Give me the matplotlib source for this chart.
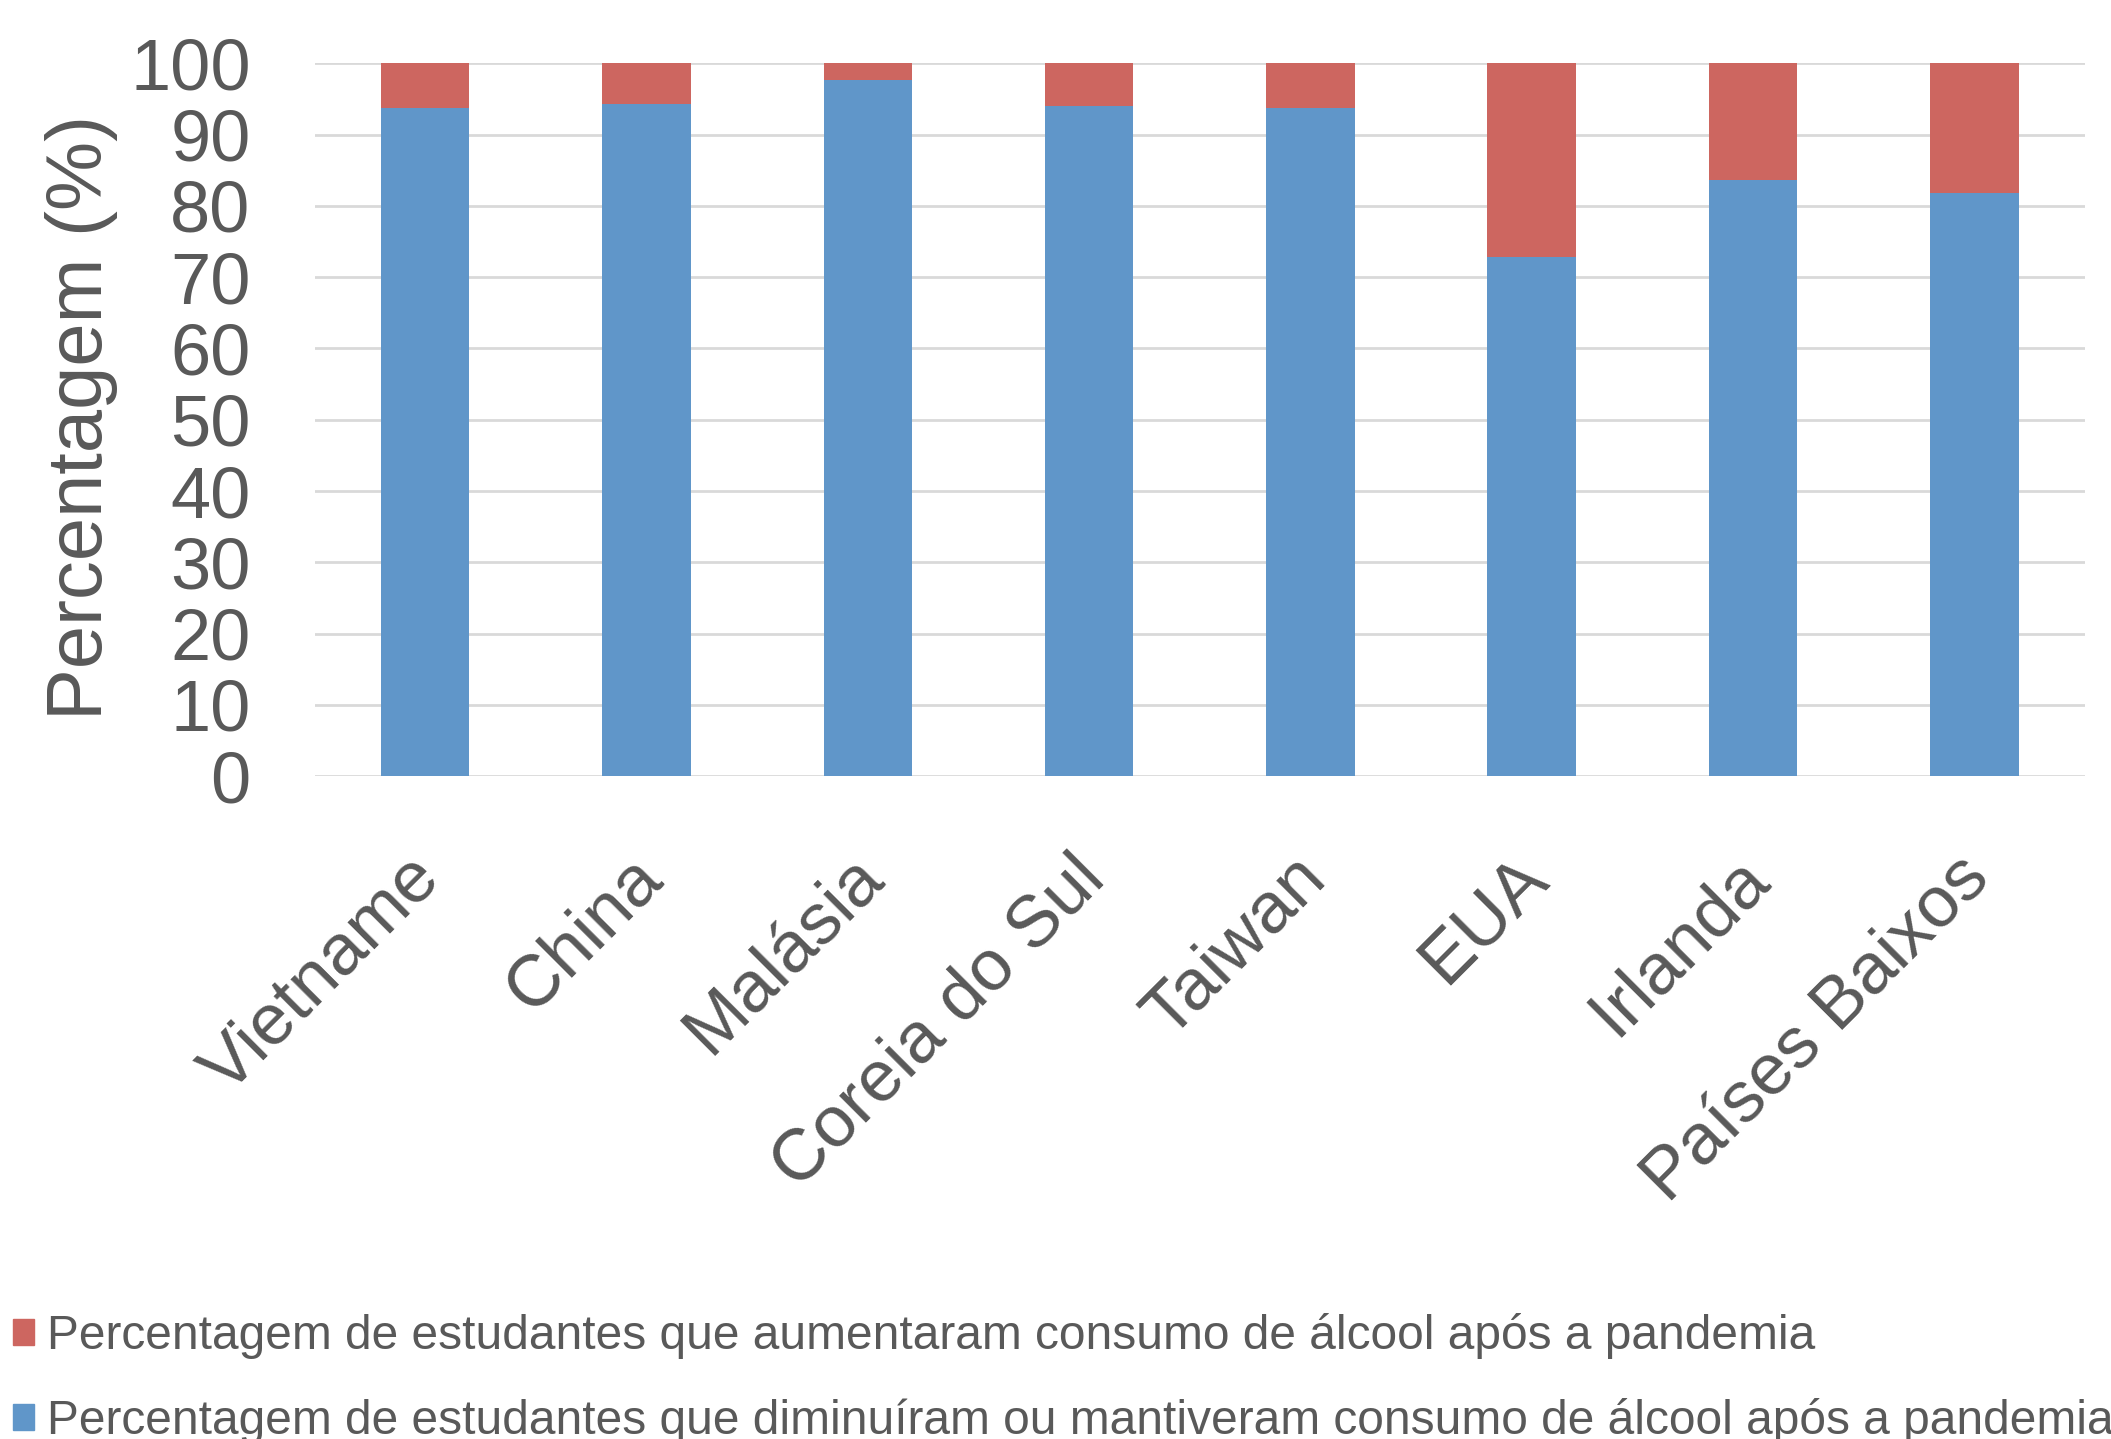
import numpy as np
import matplotlib
matplotlib.use("Agg")
import matplotlib.pyplot as plt
import matplotlib.transforms as mtransforms
from matplotlib.patches import Patch

plt.rcParams['font.family'] = ['Liberation Sans', 'DejaVu Sans']

# dados
paises = ['Vietname', 'China', 'Malásia', 'Coreia do Sul', 'Taiwan', 'EUA', 'Irlanda', 'Países Baixos']
mantiveram = [93.7, 94.3, 97.7, 94.1, 93.8, 72.8, 83.6, 81.8]
aumentaram = [6.3, 5.7, 2.3, 5.9, 6.2, 27.2, 16.4, 18.2]
yticks = [0, 10, 20, 30, 40, 50, 60, 70, 80, 90, 100]

cor_azul = '#6096C9'
cor_verm = '#CD6660'
cor_texto = '#595959'
cor_grade = '#D9D9D9'

fig = plt.figure(figsize=(21.11, 14.39), dpi=100)
ax = fig.add_axes([0.149, 0.4607, 0.8387, 0.4952])

x = np.arange(len(paises))
ax.bar(x, mantiveram, width=0.4, color=cor_azul, zorder=3)
ax.bar(x, aumentaram, width=0.4, bottom=mantiveram, color=cor_verm, zorder=3)

ax.set_xlim(-0.5, len(paises) - 0.5)
ax.set_ylim(0, 100)
ax.set_yticks(yticks)
ax.set_yticklabels([str(v) for v in yticks])
ax.grid(axis='y', color=cor_grade, linewidth=2, zorder=0)
for s in ax.spines.values():
    s.set_visible(False)
ax.tick_params(axis='both', length=0, labelsize=52, colors=cor_texto)
ax.tick_params(axis='y', pad=46)
ax.tick_params(axis='x', pad=49)

ax.set_xticks(x)
ax.set_xticklabels(paises, rotation=45, ha='right', rotation_mode='anchor')
desloc = mtransforms.ScaledTranslation(-0.19, 0, fig.dpi_scale_trans)
for lbl in ax.get_xticklabels():
    lbl.set_transform(lbl.get_transform() + desloc)

fig.text(81 / 2111, 1 - 417 / 1439, 'Percentagem (%)', rotation=90,
         ha='center', va='center', fontsize=56, color=cor_texto)

handles = [Patch(color=cor_verm), Patch(color=cor_azul)]
rotulos = ['Percentagem de estudantes que aumentaram consumo de álcool após a pandemia',
           'Percentagem de estudantes que diminuíram ou mantiveram consumo de álcool após a pandemia']
leg = fig.legend(handles, rotulos, loc='upper left', bbox_to_anchor=(0.006, 0.0877),
                 frameon=False, fontsize=34.5, handlelength=0.45, handleheight=0.45,
                 handletextpad=0.27, labelspacing=0.82, borderaxespad=0, borderpad=0)
for t in leg.get_texts():
    t.set_color(cor_texto)

fig.savefig('out.png', dpi=100)
